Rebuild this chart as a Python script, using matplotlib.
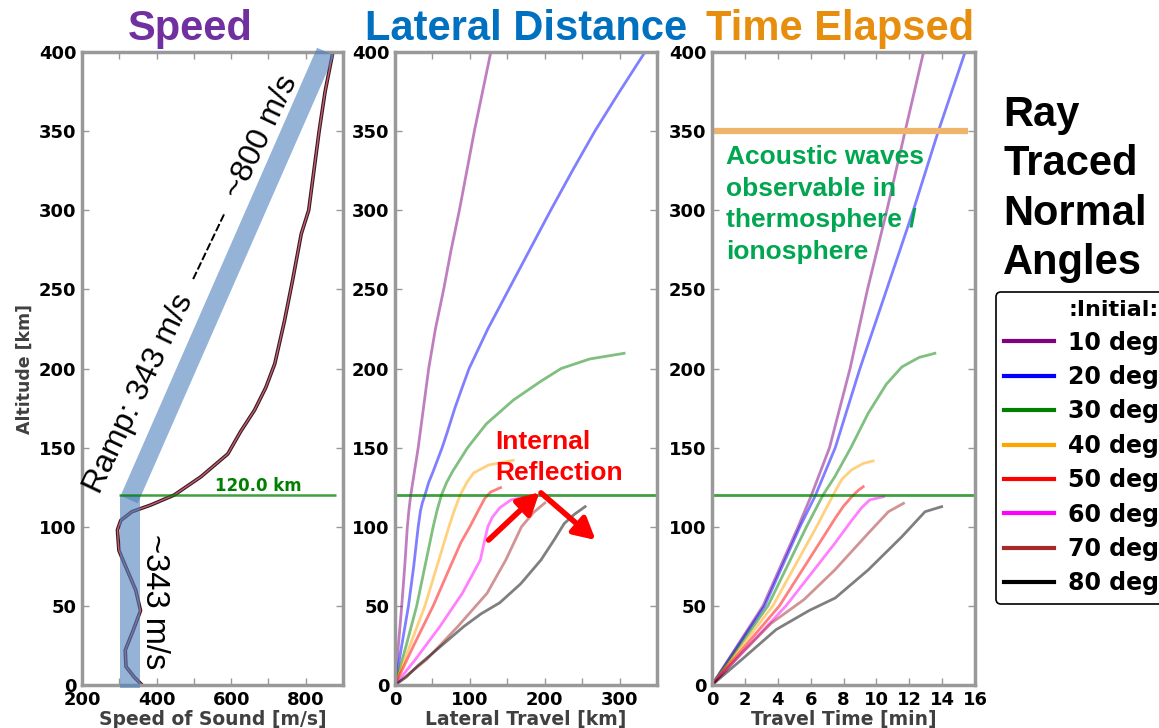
import matplotlib
matplotlib.use("Agg")
import matplotlib.pyplot as plt
from matplotlib.lines import Line2D

plt.rcParams["font.family"] = "DejaVu Sans"
plt.rcParams["font.weight"] = "bold"
plt.rcParams["axes.labelweight"] = "bold"

# sound speed profile (m/s) against altitude (km)
profile_alt = [0, 5, 11.6, 22, 35, 47, 60, 72.7, 85, 98, 104, 109.5, 113.7, 120, 131.6,
               146, 160, 173.8, 188, 203, 230, 256, 285, 300, 350, 375, 400]
profile_speed = [361, 340, 318, 316, 338, 357, 344, 321, 299, 295, 304, 334, 384, 447, 519,
                 591, 625, 663, 693, 717, 743, 765, 788, 808, 836, 852, 873]

angles = ["10 deg", "20 deg", "30 deg", "40 deg", "50 deg", "60 deg", "70 deg", "80 deg"]
colors = ["purple", "blue", "green", "orange", "red", "magenta", "brown", "black"]

# ray paths: lateral travel (km) against altitude (km)
lat_alt = [
    [0, 10, 25, 50, 75, 100, 110, 120, 135, 150, 175, 200, 225, 250, 275, 300, 325, 350, 375,
     400],
    [0, 10, 25, 50, 75, 100, 110, 115, 120, 128, 135, 150, 160, 175, 187, 200, 225, 250, 275,
     300, 325, 350, 375, 400],
    [0, 25, 50, 75, 100, 110, 120, 128, 135, 150, 165, 180, 192, 200, 206, 209.6],
    [0, 25, 50, 75, 100, 110, 120, 128, 134, 139, 142],
    [0, 25, 50, 75, 90, 100, 110, 118, 122, 124.7],
    [0, 16, 37, 58, 79, 92, 100, 106, 112, 117, 119],
    [0, 16, 37, 58, 79, 100, 109, 115],
    [0, 5, 12, 24, 37, 45, 52, 64, 79, 92, 102, 108, 112.7],
]
lat_km = [
    [0, 1.8, 4.5, 9, 13, 16.5, 18.5, 21, 26, 31, 38, 45, 54, 65, 75, 86, 96, 106, 117, 128],
    [0, 3.6, 9, 18, 25, 31, 34, 36.5, 40, 45, 51, 63, 70, 80, 89, 99, 124, 152, 180, 208,
     237, 267, 300, 334],
    [0, 15, 29, 40, 51, 56, 62, 69, 77, 97, 122, 158, 195, 222, 260, 306],
    [0, 20, 40, 56, 72, 79, 87, 96, 105, 125, 158],
    [0, 25, 51, 74, 88, 100, 111, 120, 128, 141],
    [0, 27, 60, 90, 114, 120, 124, 130, 140, 155, 175],
    [0, 42, 84, 123, 148, 169, 185, 200],
    [0, 15, 30, 60, 92, 115, 140, 168, 195, 213, 226, 240, 254],
]

# ray paths: travel time (min) against altitude (km)
time_alt = [
    [0, 50, 100, 120, 150, 200, 250, 300, 350, 400],
    [0, 50, 100, 120, 150, 200, 250, 300, 350, 400],
    [0, 50, 100, 120, 131.6, 150, 171.7, 190, 201, 207, 209.6],
    [0, 50, 100, 122, 130, 136, 140, 141.6],
    [0, 50, 100, 105, 113, 119, 123, 125.3],
    [0, 50, 89.5, 104, 112, 117, 119],
    [0, 20, 39, 54, 72.7, 95.8, 109.5, 114.8],
    [0, 16, 35, 47, 55, 72.7, 93.7, 109.5, 112.7],
]
time_min = [
    [0, 3.1, 5.24, 6.05, 7.15, 8.4, 9.46, 10.64, 11.75, 12.87],
    [0, 3.2, 5.35, 6.3, 7.5, 9.0, 10.63, 12.25, 13.77, 15.4],
    [0, 3.4, 5.75, 6.75, 7.47, 8.45, 9.5, 10.6, 11.55, 12.6, 13.56],
    [0, 3.7, 6.36, 7.47, 7.9, 8.5, 9.2, 9.8],
    [0, 4.1, 7.17, 7.47, 8.0, 8.5, 8.9, 9.2],
    [0, 4.5, 7.47, 8.5, 9.1, 9.6, 10.44],
    [0, 1.8, 3.6, 5.6, 7.47, 9.5, 10.73, 11.65],
    [0, 1.8, 3.9, 5.9, 7.5, 9.5, 11.55, 12.96, 13.97],
]

reflect_alt = 120.0
iono_alt = 350
band_speed = [302, 356]      # near-constant 343 m/s band below 120 km
ramp_speed = [326.5, 853.5]  # ramp band from 343 to ~800 m/s
ramp_alt = [117.2, 400.3]

W, H = 1159, 728
fig = plt.figure(figsize=(W / 100, H / 100), dpi=100)
ax1 = fig.add_axes([82 / W, (H - 685) / H, 261 / W, 633 / H])
ax2 = fig.add_axes([395 / W, (H - 685) / H, 262 / W, 633 / H])
ax3 = fig.add_axes([712 / W, (H - 685) / H, 263 / W, 633 / H])


def style(ax, xticks, xlabels):
    for s in ax.spines.values():
        s.set_color("#999999")
        s.set_linewidth(2.5)
    ax.set_ylim(0, 400)
    ax.set_yticks(range(0, 401, 50))
    ax.set_xticks(xticks)
    ax.set_xticklabels(xlabels)
    ax.tick_params(direction="in", top=True, right=True, length=5, width=1,
                   color="#999999", labelsize=13, pad=4)


# speed panel
ax1.plot(profile_speed, profile_alt, color="#3a1a22", lw=2.6, zorder=2)
ax1.plot(profile_speed, profile_alt, color="#c06070", lw=1.0, zorder=2)
ax1.fill_betweenx([-2, reflect_alt], band_speed[0], band_speed[1], color="#4F81BD",
                  alpha=0.6, lw=0, zorder=3, clip_on=False)
ax1.plot(ramp_speed, ramp_alt, color="#4F81BD", alpha=0.6, lw=13.5,
         solid_capstyle="butt", zorder=3, clip_on=False)
ax1.hlines(reflect_alt, 300, 880, color="green", lw=1.8, alpha=0.75, zorder=4)
ax1.text(672, 125.7, "120.0 km", color="green", fontsize=12, ha="center", va="center")
ax1.text(494, 253, "Ramp: 343 m/s  -------  ~800 m/s", family="Liberation Sans",
         weight="normal", fontsize=23, rotation=64.5, rotation_mode="anchor",
         ha="center", va="center")
ax1.text(395, 53, "~343 m/s", family="Liberation Sans", weight="normal", fontsize=23.5,
         rotation=-90, ha="center", va="center")
ax1.set_xlim(200, 900)
style(ax1, range(200, 901, 100), ["200", "", "400", "", "600", "", "800", ""])
ax1.set_xlabel("Speed of Sound [m/s]", fontsize=13.5, color="#404040", labelpad=1)
ax1.set_ylabel("Altitude [km]", fontsize=12.5, color="#404040", labelpad=4)

# lateral distance panel
for a, x, c in zip(lat_alt, lat_km, colors):
    ax2.plot(x, a, color=c, lw=2, alpha=0.5)
ax2.axhline(reflect_alt, color="green", lw=2, alpha=0.75)
arrow = dict(arrowstyle="-|>,head_length=0.75,head_width=0.4", lw=4, color="red",
             mutation_scale=17, shrinkA=0, shrinkB=0)
ax2.annotate("", xy=(193, 121.8), xytext=(125, 91.6), arrowprops=arrow)
ax2.annotate("", xy=(268, 91.6), xytext=(195, 121.4), arrowprops=arrow)
ax2.set_xlim(0, 350)
style(ax2, range(0, 351, 50), ["0", "", "100", "", "200", "", "300", ""])
ax2.set_xlabel("Lateral Travel [km]", fontsize=13.5, color="#404040", labelpad=1)

# travel time panel
for a, t, c in zip(time_alt, time_min, colors):
    ax3.plot(t, a, color=c, lw=2, alpha=0.5)
ax3.axhline(reflect_alt, color="green", lw=2, alpha=0.75)
ax3.hlines(iono_alt, 0, 15.6, color="#EFB46A", lw=4.5)
ax3.set_xlim(0, 16)
style(ax3, range(0, 17, 2), [str(v) for v in range(0, 17, 2)])
ax3.set_xlabel("Travel Time [min]", fontsize=13.5, color="#404040", labelpad=1)

# titles and notes
title_font = dict(family="Liberation Sans", fontsize=30, weight="bold", va="baseline",
                  ha="center")
fig.text(190 / W, 1 - 40 / H, "Speed", color="#7030A0", **title_font)
fig.text(526 / W, 1 - 40 / H, "Lateral Distance", color="#0070C0", **title_font)
fig.text(840 / W, 1 - 40 / H, "Time Elapsed", color="#E88E0E", **title_font)

fig.text(495 / W, 1 - 430 / H, "Internal\nReflection", color="red",
         family="Liberation Sans", fontsize=19, linespacing=1.35, ha="left", va="top")
fig.text(726 / W, 1 - 145 / H, "Acoustic waves\nobservable in\nthermosphere /\nionosphere",
         color="#00A650", family="Liberation Sans", fontsize=19, linespacing=1.4,
         ha="left", va="top")
fig.text(1003 / W, 1 - 95 / H, "Ray\nTraced\nNormal\nAngles", color="black",
         family="Liberation Sans", fontsize=30, linespacing=1.3, ha="left", va="top")

handles = [Line2D([], [], color=c, lw=3) for c in colors]
leg = fig.legend(handles, angles, title=":Initial:", loc="upper left",
                 bbox_to_anchor=(996 / W, 1 - 292 / H), borderaxespad=0,
                 prop={"size": 17, "weight": "bold"},
                 title_fontproperties={"size": 16, "weight": "bold"},
                 handlelength=2.1, handletextpad=0.6, labelspacing=0.44, borderpad=0.35,
                 alignment="right", fancybox=True, framealpha=1, edgecolor="black")
leg.get_frame().set_linewidth(1.2)

fig.savefig("out.png", dpi=100)
